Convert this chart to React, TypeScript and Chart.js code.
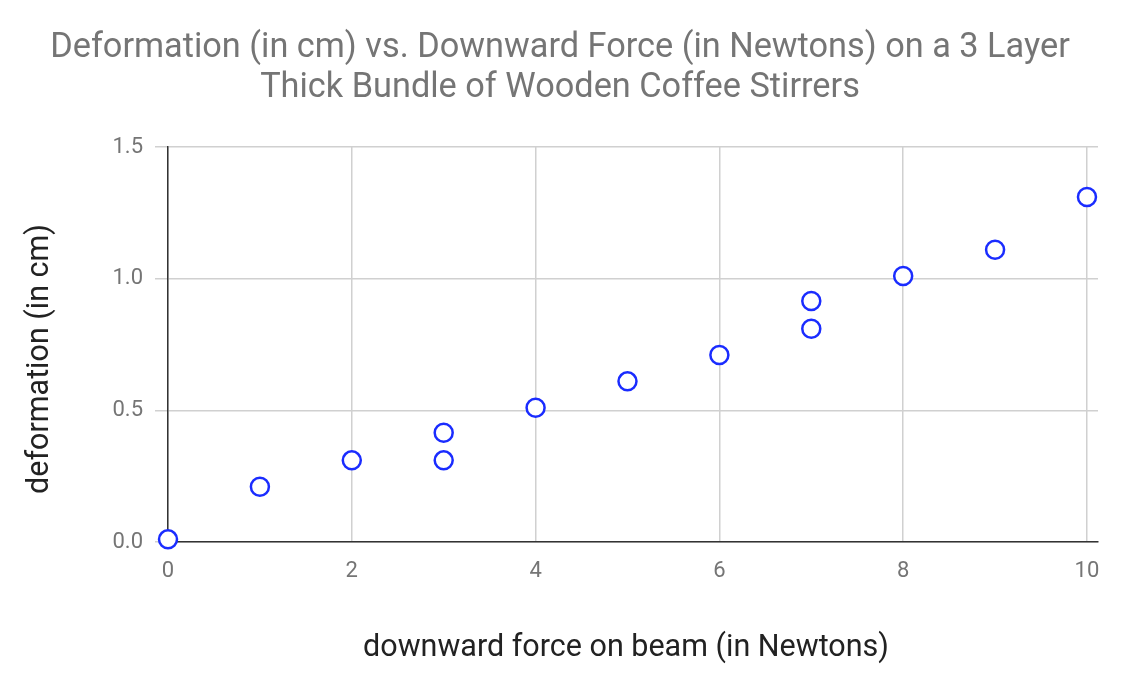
import React, { useEffect, useRef } from "react";
import { Chart, registerables } from "chart.js";

Chart.register(...registerables);

const forceValues = [0, 1, 2, 3, 3, 4, 5, 6, 7, 7, 8, 9, 10];
const deformationValues = [0.01, 0.21, 0.31, 0.31, 0.415, 0.51, 0.61, 0.71, 0.81, 0.915, 1.01, 1.11, 1.31];
const xTickValues = [0, 2, 4, 6, 8, 10];
const yTickValues = [0, 0.5, 1.0, 1.5];
const titleLines = [
  "Deformation (in cm) vs. Downward Force (in Newtons) on a 3 Layer",
  "Thick Bundle of Wooden Coffee Stirrers",
];
const xAxisTitle = "downward force on beam (in Newtons)";
const yAxisTitle = "deformation (in cm)";

const W = 1123;
const H = 679;

const textPlugin = {
  id: "chartTexts",
  afterDraw(chart: any) {
    const ctx = chart.ctx as CanvasRenderingContext2D;
    ctx.save();
    ctx.textBaseline = "alphabetic";
    ctx.textAlign = "center";
    // main title
    ctx.fillStyle = "#757575";
    ctx.font = "34.3px Roboto";
    titleLines.forEach((line, i) => {
      ctx.fillText(line, 560, 57 + i * 40);
    });
    // axis titles
    ctx.fillStyle = "#222222";
    ctx.font = "30.5px Roboto";
    ctx.fillText(xAxisTitle, 626, 656);
    ctx.translate(48, 359);
    ctx.rotate(-Math.PI / 2);
    ctx.fillText(yAxisTitle, 0, 0);
    ctx.restore();
  },
};

export default function App() {
  const ref = useRef<HTMLCanvasElement | null>(null);

  useEffect(() => {
    document.body.style.margin = "0";
    const canvas = ref.current;
    if (!canvas) return;
    const points = forceValues.map((x, i) => ({ x, y: deformationValues[i] }));
    const chart = new Chart(canvas, {
      type: "scatter",
      data: {
        datasets: [
          {
            label: "deformation",
            data: points,
            pointRadius: 9,
            pointHoverRadius: 9,
            pointBorderWidth: 2.5,
            pointBorderColor: "#1a2cff",
            pointBackgroundColor: "#ffffff",
            showLine: false,
            clip: false,
          } as any,
        ],
      },
      options: {
        responsive: false,
        animation: false,
        devicePixelRatio: 1,
        layout: { padding: { left: 0, right: 25, top: 147, bottom: 0 } },
        plugins: {
          legend: { display: false },
          tooltip: { enabled: false },
          title: { display: false },
        },
        scales: {
          x: {
            type: "linear",
            min: 0,
            max: 10.12,
            afterBuildTicks: (scale: any) => {
              scale.ticks = xTickValues.map((v) => ({ value: v }));
            },
            afterFit: (scale: any) => {
              scale.height = H - 542;
            },
            ticks: {
              color: "#757575",
              font: { family: "Roboto", size: 22 },
              padding: 16,
              callback: (v: any) => String(v),
            },
            grid: { color: "#d0d0d0", lineWidth: 1.5, drawTicks: false },
            border: { display: true, color: "#333333", width: 1.5 },
            title: { display: false },
          },
          y: {
            type: "linear",
            min: 0,
            max: 1.5,
            afterBuildTicks: (scale: any) => {
              scale.ticks = yTickValues.map((v) => ({ value: v }));
            },
            afterFit: (scale: any) => {
              scale.width = 168;
            },
            ticks: {
              color: "#757575",
              font: { family: "Roboto", size: 22 },
              padding: 12,
              callback: (v: any) => Number(v).toFixed(1),
            },
            grid: { color: "#d0d0d0", lineWidth: 1.5, drawTicks: true, tickLength: 13 },
            border: { display: true, color: "#333333", width: 1.5 },
            title: { display: false },
          },
        },
      },
      plugins: [textPlugin],
    });
    return () => chart.destroy();
  }, []);

  return (
    <div style={{ width: W, height: H, background: "#ffffff" }}>
      <canvas ref={ref} width={W} height={H} style={{ display: "block" }} />
    </div>
  );
}
